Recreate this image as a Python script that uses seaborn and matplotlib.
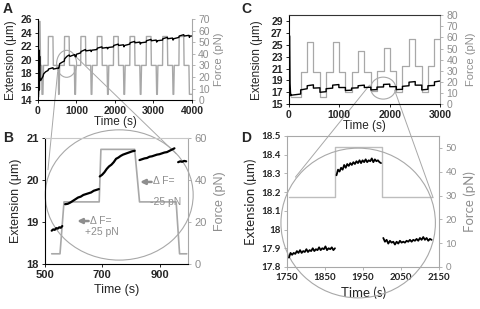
import numpy as np
import pandas as pd
import matplotlib
matplotlib.use("Agg")
import matplotlib.pyplot as plt
import seaborn as sns
from matplotlib.patches import Ellipse, ConnectionPatch
from matplotlib.ticker import FuncFormatter

sns.set_theme(style="ticks")
plt.rcParams['font.family'] = ['Liberation Sans', 'DejaVu Sans']

GRAY = '#a8a8a8'
TXT_GRAY = '#8e8e8e'

# ---------------- panel A : whole experiment ----------------
a_head_t = [0, 25, 35, 55, 68, 98, 106, 118]
a_head_f = [3, 3, 68, 68, 30, 30, 5, 5]
a_cycle_off = [-140, -125, -5, 2, 120, 130, 255, 268]
a_cycle_f = [5, 30, 30, 55, 55, 30, 30, 5]
a_peak_starts = [270, 690, 1115, 1540, 1965, 2390, 2815, 3240, 3665]
a_tail_t = [3995]
a_tail_f = [5]

a_ext_t = [0, 12, 25, 32, 38, 45, 52, 70, 100, 130, 150, 200, 265, 272, 390, 400,
           525, 538, 550, 565, 610, 645, 685, 692, 726, 761, 796, 810, 830, 955, 968,
           990, 1000, 1110, 1117, 1235, 1245, 1370, 1383, 1400,
           1530, 1542, 1660, 1670, 1795, 1808, 1830,
           1960, 1967, 2085, 2095, 2220, 2233, 2250,
           2385, 2392, 2510, 2520, 2645, 2658, 2680,
           2810, 2817, 2935, 2945, 3070, 3083, 3100,
           3235, 3242, 3360, 3370, 3495, 3508, 3525,
           3660, 3667, 3785, 3795, 3920, 3933, 3950, 3990]
a_ext = [14.3, 14.8, 16.5, 21.4, 15.5, 20.5, 17.2, 16.9, 17.2, 17.5, 17.9, 18.2, 18.4, 18.6, 18.8, 18.6,
         18.75, 18.7, 18.9, 19.4, 19.55, 19.67, 19.78, 20.1, 20.32, 20.52, 20.63, 20.69, 20.48, 20.75, 20.44,
         20.45, 20.8, 21.0, 21.2, 21.5, 21.3, 21.4, 21.2, 21.4,
         21.5, 21.7, 21.9, 21.7, 21.8, 21.6, 21.8,
         21.9, 22.1, 22.3, 22.1, 22.2, 21.9, 22.1,
         22.3, 22.5, 22.7, 22.5, 22.6, 22.3, 22.5,
         22.6, 22.8, 23.0, 22.8, 22.9, 22.6, 22.8,
         22.9, 23.1, 23.3, 23.1, 23.2, 22.9, 23.1,
         23.3, 23.5, 23.7, 23.5, 23.6, 23.3, 23.5, 23.5]

# ---------------- panel B : zoom on one cycle ----------------
b_force_t = [523, 552, 566, 689, 695, 813, 830, 958, 970, 995]
b_force = [4.8, 4.8, 29.5, 29.5, 54.5, 54.5, 29.5, 29.5, 4.8, 4.8]
b_seg_t0 = [523, 570, 691, 830, 965]
b_seg_t1 = [560, 688, 813, 952, 993]
b_seg_ext = [
    [18.79, 18.82, 18.81, 18.85, 18.84, 18.87, 18.86, 18.9],
    [19.42, 19.43, 19.46, 19.5, 19.54, 19.58, 19.6, 19.64, 19.66, 19.68, 19.7, 19.74, 19.76, 19.78],
    [20.08, 20.12, 20.18, 20.26, 20.32, 20.36, 20.42, 20.5, 20.53, 20.57, 20.6, 20.62, 20.64, 20.66, 20.68, 20.69],
    [20.47, 20.49, 20.51, 20.52, 20.55, 20.56, 20.58, 20.6, 20.61, 20.63, 20.65, 20.66, 20.69, 20.72, 20.75],
    [20.42, 20.44, 20.43, 20.45, 20.44],
]

# ---------------- panel C : stepwise protocol ----------------
c_head_t = [0, 8, 14, 22, 30, 40]
c_head_ext = [17.5, 26.6, 26.4, 18.5, 17.0, 16.4]
c_step_t = [40, 232, 362, 485, 615, 737, 867, 990, 1120, 1242, 1372, 1495, 1625, 1747,
            1877, 2000, 2130, 2252, 2382, 2505, 2635, 2757, 2887, 3000]
c_step_f = [6, 28.5, 56, 28.5, 6, 28.5, 56, 28.5, 11, 28.5, 47.5, 28.5, 12, 29.5,
            50.5, 29.5, 11, 34, 59, 34, 11, 34, 59]
c_ext_start = [16.5, 17.4, 18.1, 17.7, 17.0, 17.6, 18.2, 17.8, 17.3, 17.7, 18.1, 17.8, 17.4, 17.87,
               18.32, 17.94, 17.45, 18.0, 18.7, 18.2, 17.4, 18.1, 18.75]
c_ext_end = [16.7, 17.6, 18.25, 17.75, 17.1, 17.7, 18.3, 17.8, 17.35, 17.75, 18.2, 17.85, 17.45, 17.9,
             18.37, 17.95, 17.5, 18.1, 18.8, 18.2, 17.5, 18.15, 18.9]

# ---------------- panel D : zoom on one step ----------------
d_force_t = [1755, 1877, 1877, 2000, 2000, 2130]
d_force = [29.5, 29.5, 50.5, 50.5, 29.5, 29.5]
d_seg_t0 = [1755, 1880, 2003]
d_seg_t1 = [1876, 1997, 2130]
d_seg_ext = [
    [17.85, 17.875, 17.865, 17.875, 17.87, 17.885, 17.875, 17.89, 17.875, 17.885, 17.88, 17.895, 17.88, 17.89,
     17.885, 17.9, 17.885, 17.895, 17.89, 17.905, 17.89, 17.9, 17.895, 17.91, 17.89, 17.9, 17.895, 17.905, 17.89, 17.9],
    [18.29, 18.32, 18.31, 18.33, 18.32, 18.345, 18.33, 18.35, 18.34, 18.355, 18.345, 18.36, 18.35, 18.365, 18.355,
     18.37, 18.355, 18.37, 18.36, 18.375, 18.36, 18.37, 18.365, 18.38, 18.36, 18.375, 18.365, 18.37, 18.36, 18.355],
    [17.955, 17.935, 17.945, 17.925, 17.94, 17.93, 17.935, 17.92, 17.935, 17.925, 17.94, 17.93, 17.935, 17.93, 17.94,
     17.935, 17.945, 17.935, 17.945, 17.94, 17.95, 17.94, 17.955, 17.945, 17.96, 17.945, 17.955, 17.94, 17.95, 17.945],
]

# ---- build tables ----
a_force_t = list(a_head_t)
a_force = list(a_head_f)
for p in a_peak_starts:
    a_force_t += [p + o for o in a_cycle_off]
    a_force += a_cycle_f
a_force_t += a_tail_t
a_force += a_tail_f

def seg_frame(t0s, t1s, vals):
    rows = []
    for k, (t0, t1, v) in enumerate(zip(t0s, t1s, vals)):
        for t, e in zip(np.linspace(t0, t1, len(v)), v):
            rows.append((k, t, e))
    return pd.DataFrame(rows, columns=['seg', 'time', 'ext'])

b_df = seg_frame(b_seg_t0, b_seg_t1, b_seg_ext)
d_df = seg_frame(d_seg_t0, d_seg_t1, d_seg_ext)

c_ext_t = list(c_head_t)
c_ext = list(c_head_ext)
for i in range(len(c_ext_start)):
    c_ext_t += [c_step_t[i], c_step_t[i + 1]]
    c_ext += [c_ext_start[i], c_ext_end[i]]

fig = plt.figure(figsize=(4.8, 3.09), dpi=100)

def setup(ax, ax2, spine_main='black', top=None, tick_font=None, lab_size=7.5, bold=True):
    ax.set_zorder(ax2.get_zorder() + 1)
    ax.patch.set_visible(False)
    for s in ['top', 'right']:
        ax.spines[s].set_visible(False)
    for s in ['top', 'left', 'bottom']:
        ax2.spines[s].set_visible(False)
    for s in ['left', 'bottom']:
        ax.spines[s].set_color(spine_main)
        ax.spines[s].set_linewidth(0.8)
    ax2.spines['right'].set_color(GRAY)
    ax2.spines['right'].set_linewidth(0.8)
    if top is not None:
        ax.spines['top'].set_visible(True)
        ax.spines['top'].set_color(top)
        ax.spines['top'].set_linewidth(0.8)
    ax.tick_params(direction='out', length=2.5, width=0.6, color=spine_main, labelsize=lab_size, pad=2)
    ax2.tick_params(direction='out', length=2.5, width=0.6, color=GRAY, labelsize=lab_size,
                    labelcolor=TXT_GRAY, pad=2)
    for lab in ax.get_xticklabels() + ax.get_yticklabels():
        if bold:
            lab.set_fontweight('bold')
        if tick_font:
            lab.set_family(tick_font)
    if tick_font:
        for lab in ax2.get_yticklabels():
            lab.set_family(tick_font)

# ---- A ----
ax_a = fig.add_axes([0.079, 0.676, 0.321, 0.262])
ax_a2 = ax_a.twinx()
sns.lineplot(x=a_force_t, y=a_force, sort=False, estimator=None, ax=ax_a2, color=GRAY, lw=1.0)
sns.lineplot(x=a_ext_t, y=a_ext, sort=False, estimator=None, ax=ax_a, color='black', lw=1.0)
ax_a.set_xlim(0, 4000)
ax_a.set_ylim(14, 26)
ax_a.set_xticks(range(0, 4001, 1000))
ax_a.set_yticks(range(14, 27, 2))
ax_a2.set_ylim(0, 70)
ax_a2.set_yticks(range(0, 71, 10))
setup(ax_a, ax_a2, lab_size=7.5)
ax_a.set_xlabel('Time (s)', fontsize=8.5, labelpad=0)
ax_a.set_ylabel('Extension (μm)', fontsize=8.5, labelpad=2)
ax_a2.set_ylabel('Force (pN)', fontsize=8, color=TXT_GRAY, labelpad=3)

# ---- B ----
ax_b = fig.add_axes([0.094, 0.146, 0.298, 0.408])
ax_b2 = ax_b.twinx()
sns.lineplot(x=b_force_t, y=b_force, sort=False, estimator=None, ax=ax_b2, color=GRAY, lw=1.2)
sns.lineplot(data=b_df, x='time', y='ext', units='seg', estimator=None, ax=ax_b, color='black', lw=1.6)
ax_b.set_xlim(500, 1000)
ax_b.set_ylim(18, 21)
ax_b.set_xticks([500, 700, 900])
ax_b.set_yticks([18, 19, 20, 21])
ax_b2.set_ylim(0, 60)
ax_b2.set_yticks([0, 20, 40, 60])
setup(ax_b, ax_b2, top='#c8c8c8', lab_size=8)
ax_b.set_xlabel('Time (s)', fontsize=9, labelpad=3)
ax_b.set_ylabel('Extension (μm)', fontsize=9, labelpad=3)
ax_b2.set_ylabel('Force (pN)', fontsize=9, color=TXT_GRAY, labelpad=5)

arrow = dict(arrowstyle='-|>', color=TXT_GRAY, lw=1.8, mutation_scale=7, shrinkA=0, shrinkB=0)
ax_b.annotate('', xy=(612, 19.02), xytext=(652, 19.02), arrowprops=arrow)
ax_b.text(656, 19.02, 'Δ F=', color=TXT_GRAY, fontsize=7.5, ha='left', va='center')
ax_b.text(697, 18.76, '+25 pN', color=TXT_GRAY, fontsize=7.5, ha='center', va='center')
ax_b.annotate('', xy=(832, 19.95), xytext=(872, 19.95), arrowprops=arrow)
ax_b.text(876, 19.97, 'Δ F=', color=TXT_GRAY, fontsize=7.5, ha='left', va='center')
ax_b.text(920, 19.48, '-25 pN', color=TXT_GRAY, fontsize=7.5, ha='center', va='center')

# ---- C ----
ax_c = fig.add_axes([0.602, 0.663, 0.315, 0.288])
ax_c2 = ax_c.twinx()
sns.lineplot(x=c_step_t, y=c_step_f + [c_step_f[-1]], sort=False, estimator=None, ax=ax_c2,
             color=GRAY, lw=0.9, drawstyle='steps-post')
sns.lineplot(x=c_ext_t, y=c_ext, sort=False, estimator=None, ax=ax_c, color='black', lw=1.0)
ax_c.set_xlim(0, 3000)
ax_c.set_ylim(15, 30)
ax_c.set_xticks([0, 1000, 2000, 3000])
ax_c.set_yticks(range(15, 30, 2))
ax_c2.set_ylim(0, 80)
ax_c2.set_yticks(range(0, 81, 10))
setup(ax_c, ax_c2, top='#333333', lab_size=7.5)
ax_c.set_xlabel('Time (s)', fontsize=8.5, labelpad=0)
ax_c.set_ylabel('Extension (μm)', fontsize=8.5, labelpad=6)
ax_c2.set_ylabel('Force (pN)', fontsize=8, color=TXT_GRAY, labelpad=6)

# ---- D ----
ax_d = fig.add_axes([0.598, 0.136, 0.317, 0.424])
ax_d2 = ax_d.twinx()
sns.lineplot(x=d_force_t, y=d_force, sort=False, estimator=None, ax=ax_d2, color='#bdbdbd', lw=1.0)
sns.lineplot(data=d_df, x='time', y='ext', units='seg', estimator=None, ax=ax_d, color='black', lw=1.3)
ax_d.set_xlim(1750, 2150)
ax_d.set_ylim(17.8, 18.5)
ax_d.set_xticks([1750, 1850, 1950, 2050, 2150])
ax_d.set_yticks(np.round(np.arange(17.8, 18.51, 0.1), 1))
ax_d.yaxis.set_major_formatter(FuncFormatter(lambda v, p: '%g' % round(v, 1)))
ax_d2.set_ylim(0, 55)
ax_d2.set_yticks(range(0, 51, 10))
setup(ax_d, ax_d2, spine_main=GRAY, top=GRAY, tick_font='Lato', lab_size=7)
ax_d.tick_params(labelcolor='#222222')
ax_d.set_xlabel('Time (s)', fontsize=9.5, family='Lato', labelpad=3)
ax_d.set_ylabel('Extension (μm)', fontsize=9.5, family='Lato', labelpad=3)
ax_d2.set_ylabel('Force (pN)', fontsize=9.5, family='Lato', color=TXT_GRAY, labelpad=5)

# ---- zoom callouts ----
ax_a.add_patch(Ellipse((745, 19.38), 519, 4.0, fill=False, ec=GRAY, lw=0.8))
ax_b.add_patch(Ellipse((759, 19.64), 517, 3.1, fill=False, ec=GRAY, lw=0.8, clip_on=False))
ax_c.add_patch(Ellipse((1870, 17.7), 497, 3.7, fill=False, ec=GRAY, lw=0.8))
ax_d.add_patch(Ellipse((1937, 18.035), 406, 0.80, fill=False, ec=GRAY, lw=0.8, clip_on=False))

for xa, xb, a1, a2 in [((512, 18.19), (510, 20.24), ax_a, ax_b),
                       ((943, 20.67), (958, 20.62), ax_a, ax_b),
                       ((1599, 18.2), (1772, 18.28), ax_c, ax_d),
                       ((2096, 17.36), (2134, 18.17), ax_c, ax_d)]:
    con = ConnectionPatch(xyA=xa, coordsA='data', axesA=a1, xyB=xb, coordsB='data', axesB=a2,
                          color=GRAY, lw=0.7)
    fig.add_artist(con)

for letter, x, y in [('A', 0.006, 0.992), ('B', 0.006, 0.575), ('C', 0.503, 0.995), ('D', 0.503, 0.575)]:
    fig.text(x, y, letter, fontsize=10, fontweight='bold', ha='left', va='top')

fig.savefig('out.png', dpi=100)
